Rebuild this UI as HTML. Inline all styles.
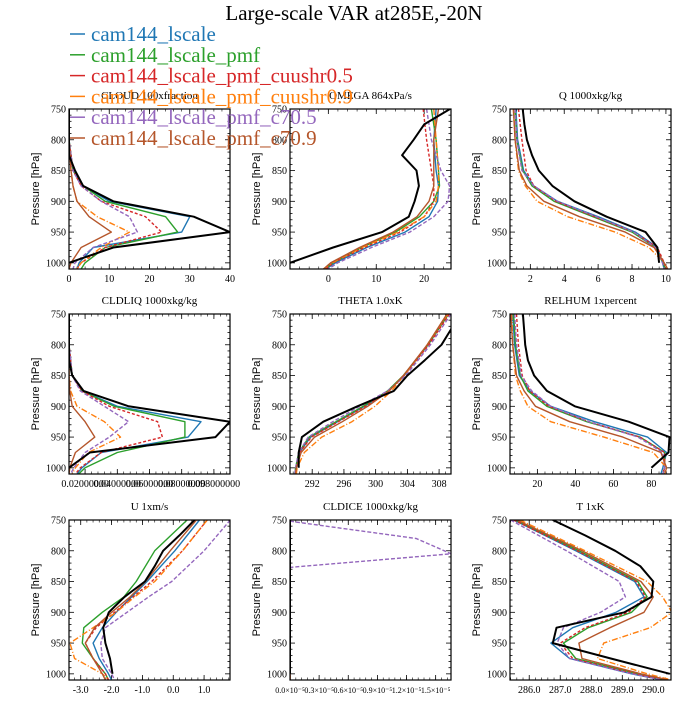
<!DOCTYPE html>
<html><head><meta charset="utf-8"><style>
body{margin:0;background:#fff}
svg text{font-family:"Liberation Serif",serif}
</style></head><body>
<svg id="c" width="700" height="700" xmlns="http://www.w3.org/2000/svg">
<text x="354" y="20" font-size="21" text-anchor="middle">Large-scale VAR at285E,-20N</text>
</svg>
<script>
const LEV_OBS=[750,775,800,825,850,875,900,925,950,975,1000];
const LEV_MOD=[750,800,850,875,900,925,950,975,1000,1010];
const seriesNames=["obs","cam144_lscale","cam144_lscale_pmf","cam144_lscale_pmf_cuushr0.5","cam144_lscale_pmf_cuushr0.9","cam144_lscale_pmf_c70.5","cam144_lscale_pmf_c70.9"];
const colors=["#000","#1f77b4","#2ca02c","#d62728","#ff7f0e","#9467bd","#b5562b"];
const dashes=["","","","3,2","6,2,1,2","4,2",""];
const panelTitles=["CLOUD  100xfraction","OMEGA  864xPa/s","Q  1000xkg/kg","CLDLIQ  1000xkg/kg","THETA  1.0xK","RELHUM  1xpercent","U  1xm/s","CLDICE  1000xkg/kg","T  1xK"];
const xDomains=[[0,40],[-8,25.6],[0.8,10.3],[0,100],[289.2,309.5],[5.6,90.3],[-3.38,1.84],[0,1.658],[285.38,290.57]];
const xTicks=[[0,10,20,30,40],[0,10,20],[2,4,6,8,10],[10,30,50,70,90],[292,296,300,304,308],[20,40,60,80],[-3,-2,-1,0,1],[0,0.3,0.6,0.9,1.2,1.5],[286,287,288,289,290]];
const xTickLabels=[["0","10","20","30","40"],["0","10","20"],["2","4","6","8","10"],["0.02000000","0.04000000","0.06000000","0.08000000","0.098000000"],["292","296","300","304","308"],["20","40","60","80"],["-3.0","-2.0","-1.0","0.0","1.0"],["0.0×10⁻⁵","0.3×10⁻⁵","0.6×10⁻⁵","0.9×10⁻⁵","1.2×10⁻⁵","1.5×10⁻⁵"],["286.0","287.0","288.0","289.0","290.0"]];
const cloud=[[0,0,0,0,1.5,3.5,11,31,40,11,0],[0,0,1,3.5,10,30,28,6,2.5,2],[0,0,1,3.5,9,24,27,9,4,3],[0,0,1,3,8,19,23,9,3,2],[0,0,0.5,1,2,7,15,8,3,2],[0,0,1,3,8,15,17,6,1.5,1],[0,0,0.5,1,2,5,10.5,3,0.5,0]];
const omega=[[25.4,20,17.8,15.4,18.4,18.9,18,16.8,11.2,1,-8],[22.5,22,22.5,23,22.8,21,16,8,1.5,-0.5],[21.5,22.5,23,23.2,22,19,14,7,1,-0.7],[19.8,20.5,21.5,22,22,20,15,7.5,1,-0.5],[22,22.5,23,23,22.5,20,14.5,7,0.8,-1],[20.5,21.5,23.5,25.3,25,22,17,9,2,0],[23,22,22,22,21,18.5,13.5,6.5,0.5,-1]];
const q=[[1.55,1.65,1.8,2.1,2.5,3.3,4.6,6.5,8.8,9.5,9.6],[1.15,1.25,1.6,2.2,3.6,6,8.2,9.5,9.8,9.9],[1.1,1.2,1.55,2.1,3.4,5.7,8,9.4,9.85,9.95],[1.3,1.5,1.75,2.2,3.5,5.8,8.1,9.5,9.9,10],[1,1.1,1.3,1.7,2.4,4.2,7,9,9.9,10.1],[1.1,1.2,1.5,2.2,3.6,5.9,8.1,9.4,9.8,9.9],[1,1.1,1.35,1.8,2.8,4.9,7.6,9.3,9.9,10.1]];
const cldliq=[[0,0,0,0,2,9,37,100,91,13,0],[0,0,2,8,30,82,74,20,8,5],[0,0,2,8,28,72,72,30,10,6],[0,0,2,8,25,55,58,20,7,4],[0,0,0,1,5,22,32,12,4,2],[0,0,2,7,22,37,25,10,3,1],[0,0,0,0.5,2,10,16,4,0.5,0]];
const theta=[[310.5,309.5,308.3,306.2,304,302.3,297.7,293.4,290.7,290.3,290.3],[309.2,306.6,303.6,301.6,298.6,295.2,291.8,290.4,290,289.9],[309.2,306.6,303.5,301.5,298.4,295,291.6,290.3,289.9,289.8],[309.3,306.7,303.6,301.7,298.7,295.3,291.9,290.4,290,289.9],[309.1,306.5,303.6,302,299.9,297,293.2,291,290.1,290],[309.5,306.9,303.8,301.5,298,294.6,291.5,290.3,289.9,289.8],[309,306.5,303.5,301.7,299,295.8,292.3,290.6,290,289.9]];
const relhum=[[12.4,13,13.6,15,18.3,25,39.7,68,89.5,89,80],[7,8,10.5,16,27,50,78,88,86,85],[7.5,8.5,11,15,25,46,74,87,87,86],[9,10,12,16,26,47,74,87,87,86],[6.5,7,8.5,11,15,27,55,81,88,87],[8,9,11.5,17,27,47,73,86,87,86],[6,7,9,13,19,37,65,85,88,87]];
const uwind=[[0.69,0.2,-0.33,-0.6,-0.92,-1.58,-2.09,-2.27,-2.2,-2.05,-1.97],[0.85,0.05,-0.85,-1.35,-1.85,-2.3,-2.6,-2.4,-2.1,-2],[0.45,-0.6,-1.2,-1.6,-2.3,-2.9,-2.95,-2.6,-2.2,-2.1],[1.1,0.3,-0.7,-1.3,-1.9,-2.5,-2.85,-2.6,-2.2,-2.1],[1.1,0.3,-0.6,-1.25,-1.85,-2.6,-3.35,-3.2,-2.3,-2.1],[1.85,1,-0.05,-0.8,-1.5,-2.2,-2.35,-2.3,-2,-1.9],[0.75,-0.1,-0.9,-1.4,-2,-2.55,-2.85,-2.6,-2.3,-2.2]];
const cldiceLevPurple=[752,780,805,827,1010];
const cldicePurple=[0,1.3,1.66,0,0];
const cldice=[[0,0,0,0,0,0,0,0,0,0,0],[0,0,0,0,0,0,0,0,0,0],[0,0,0,0,0,0,0,0,0,0],[0,0,0,0,0,0,0,0,0,0],[0,0,0,0,0,0,0,0,0,0],cldicePurple,[0,0,0,0,0,0,0,0,0,0]];
const tempK=[[286.76,287.8,288.77,289.58,290,289.94,289.07,286.88,286.76,288.63,290.53],[285.5,287.5,289.4,289.7,288.8,287.4,286.7,287.3,289.3,290.3],[285.55,287.6,289.5,289.8,289.3,287.9,287.1,287.5,289.5,290.4],[285.5,287.55,289.45,289.75,289.2,287.8,287,287.4,289.4,290.35],[285.7,287.8,289.8,290.3,290.6,289.9,288.4,288.2,289.8,290.6],[285.4,287.2,288.9,289.1,288.3,287.1,286.9,287.3,289.3,290.3],[285.6,287.7,289.6,290,289.7,288.6,287.6,287.7,289.6,290.5]];
const panelData=[cloud,omega,q,cldliq,theta,relhum,uwind,cldice,tempK];
const panelNames=["cloud","omega","q","cldliq","theta","relhum","u","cldice","t"];

const NS="http://www.w3.org/2000/svg";
const svg=document.getElementById("c");
const colX=[69,290,510], rowY=[109,314,520], PW=161, PH=160;
const P0=750,P1=1010;
function mk(tag,attrs,parent){const e=document.createElementNS(NS,tag);for(const k in attrs)e.setAttribute(k,attrs[k]);(parent||svg).appendChild(e);return e;}
const defs=mk("defs",{});
panelData.forEach((data,pi)=>{
  const L=colX[pi%3],T=rowY[Math.floor(pi/3)];
  const [x0,x1]=xDomains[pi];
  const xs=v=>L+(v-x0)/(x1-x0)*PW;
  const ys=p=>T+(p-P0)/(P1-P0)*PH;
  const g=mk("g",{});
  
  
  const cp=mk("clipPath",{id:"cp"+pi},defs);mk("rect",{x:L,y:T,width:PW,height:PH},cp);
  const title=mk("text",{x:L+PW/2,y:T-10,"font-size":11,"text-anchor":"middle"},g);title.textContent=panelTitles[pi];
  
  
  const yl=mk("text",{x:0,y:0,"font-size":11,"text-anchor":"middle",transform:`translate(${L-30},${T+PH/2}) rotate(-90)`,style:"font-family:'Liberation Sans',sans-serif"},g);yl.textContent="Pressure [hPa]";
  
  
  // y ticks
  for(let p=750;p<=1010;p+=10){const y=ys(p);const maj=p%50===0;const len=maj?5:2.5;
    mk("line",{x1:L,x2:L+len,y1:y,y2:y,stroke:"#000","stroke-width":0.8},g);
    mk("line",{x1:L+PW,x2:L+PW-len,y1:y,y2:y,stroke:"#000","stroke-width":0.8},g);
    if(maj){const t=mk("text",{x:L-3,y:y+3.5,"font-size":10,"text-anchor":"end"},g);t.textContent=p;
      
      }}
  // x ticks
  const tks=xTicks[pi];
  tks.forEach((v,i)=>{const x=xs(v);
    mk("line",{x1:x,x2:x,y1:T+PH,y2:T+PH-5,stroke:"#000","stroke-width":0.8},g);
    mk("line",{x1:x,x2:x,y1:T,y2:T+5,stroke:"#000","stroke-width":0.8},g);
    const t=mk("text",{x:x,y:T+PH+13,"font-size":pi===7?8:10,"text-anchor":"middle"},g);t.textContent=xTickLabels[pi][i];
    
    });
  if(tks.length>1){const st=(tks[1]-tks[0])/5;for(let v=tks[0]-st*10;v<=x1;v+=st){if(v<x0)continue;const x=xs(v);
    mk("line",{x1:x,x2:x,y1:T+PH,y2:T+PH-2.5,stroke:"#000","stroke-width":0.6},g);
    mk("line",{x1:x,x2:x,y1:T,y2:T+2.5,stroke:"#000","stroke-width":0.6},g);}}
  // series
  const sg=mk("g",{"clip-path":`url(#cp${pi})`},g);
  const order=[1,2,3,4,5,6,0];
  order.forEach(si=>{
    const vals=data[si];
    const lev=(pi===7&&si===5)?cldiceLevPurple:(si===0?LEV_OBS:LEV_MOD);
    const d=vals.map((v,i)=>(i?"L":"M")+xs(v).toFixed(1)+","+ys(lev[i]).toFixed(1)).join("");
    const pa=mk("path",{d:d,fill:"none",stroke:colors[si],"stroke-width":si===0?2:1.4,"stroke-dasharray":dashes[si],"stroke-linejoin":"round"},sg);
    
    
  });
  const fr=mk("rect",{x:L,y:T,width:PW,height:PH,fill:"none",stroke:"#000","stroke-width":1.2},g);
  
  
});
// legend
const lg=mk("g",{});


for(let i=1;i<7;i++){const y=34+(i-1)*20.8;
  mk("line",{x1:70,x2:85,y1:y,y2:y,stroke:colors[i],"stroke-width":1.5},lg);
  const t=mk("text",{x:91,y:y+7,"font-size":21,fill:colors[i]},lg);t.textContent=seriesNames[i];
  
  }
</script>
</body></html>
